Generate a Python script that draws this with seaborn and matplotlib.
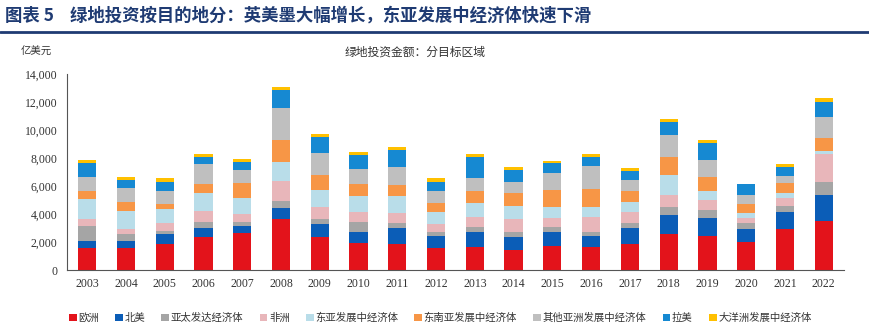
import matplotlib
matplotlib.use("Agg")
import matplotlib.pyplot as plt
from matplotlib.patches import Patch
from matplotlib.lines import Line2D
import numpy as np
import pandas as pd
import seaborn as sns

years = [str(y) for y in range(2003, 2023)]
europe      = [1550,1600,1860,2330,2620,3640,2380,1950,1900,1550,1670,1430,1740,1670,1860,2570,2450,2020,2900,3520]
north_am    = [550,500,690,650,520,760,910,790,1080,880,1020,900,950,760,1120,1360,1290,910,1220,1840]
apac_dev    = [1070,470,240,470,260,550,330,660,350,260,360,360,410,310,350,550,550,400,480,950]
africa      = [470,360,590,760,600,1410,900,720,720,570,710,930,640,1020,840,880,710,360,520,1980]
east_asia   = [1410,1310,950,1310,1120,1330,1190,1170,1240,860,1000,950,740,760,710,1430,640,410,400,230]
se_asia     = [620,640,380,620,1120,1600,1080,830,780,640,910,950,1230,1270,790,1310,980,610,670,880]
other_asia  = [950,1000,930,1430,900,2310,1540,1070,1310,880,930,790,1190,1640,760,1540,1240,650,520,1550]
latam       = [1050,550,670,530,600,1260,1150,1020,1190,670,1450,830,720,670,640,960,1190,780,670,1070]
oceania     = [210,190,240,190,190,240,230,240,240,240,210,190,190,190,190,190,240,0,190,240]

series_names = ["欧洲", "北美", "亚太发达经济体", "非洲", "东亚发展中经济体",
                "东南亚发展中经济体", "其他亚洲发展中经济体", "拉美", "大洋洲发展中经济体"]
series_vals = [europe, north_am, apac_dev, africa, east_asia, se_asia, other_asia, latam, oceania]
colors = ["#E3131B", "#0B5DB7", "#A5A5A5", "#E8B6BA", "#B9DDE9",
          "#F79646", "#BFBFBF", "#1689D2", "#FFC000"]

sns.set_style("white")
plt.rcParams['font.family'] = ['Noto Sans CJK SC', 'DejaVu Sans']

fig = plt.figure(figsize=(8.7, 3.36), dpi=100)
ax = fig.add_axes([0.077, 0.196, 0.893, 0.584])

bottom = np.zeros(len(years))
for name, vals, c in zip(series_names, series_vals, colors):
    df = pd.DataFrame({"year": years, "value": vals})
    sns.barplot(data=df, x="year", y="value", order=years, color=c, width=0.47,
                bottom=bottom.copy(), ax=ax, errorbar=None, saturation=1,
                linewidth=0, label=name)
    bottom += np.array(vals)

ax.set_xlim(-0.52, 19.52)
ax.set_ylim(0, 14000)
ax.set_yticks(np.arange(0, 14001, 2000))
ax.set_yticklabels([f"{v:,}" for v in range(0, 14001, 2000)],
                   fontfamily="Liberation Serif", fontsize=8.5, color="#333333")
ax.set_xticks(range(len(years)))
ax.set_xticklabels(years, fontfamily="Liberation Serif", fontsize=8.5, color="#333333")
ax.set_xticks(np.arange(-0.5, 20, 1), minor=True)
ax.tick_params(axis="x", which="major", length=0, pad=6)
ax.tick_params(axis="x", which="minor", length=4, width=0.8, color="#555555", direction="out")
ax.tick_params(axis="y", length=4, width=0.8, color="#555555", direction="out", pad=3)
ax.set_xlabel("")
ax.set_ylabel("")
for s in ["top", "right"]:
    ax.spines[s].set_visible(False)
for s in ["left", "bottom"]:
    ax.spines[s].set_color("#555555")
    ax.spines[s].set_linewidth(0.8)
if ax.get_legend() is not None:
    ax.get_legend().remove()

handles = [Patch(facecolor=c, edgecolor="none", label=n) for n, c in zip(series_names, colors)]
fig.legend(handles=handles, loc="center", bbox_to_anchor=(0.506, 0.054), ncol=9,
           frameon=False, fontsize=7.5, handlelength=0.75, handleheight=0.75,
           handletextpad=0.15, columnspacing=1.55, labelcolor="#333333")

fig.text(0.006, 0.955, "图表 5    绿地投资按目的地分：英美墨大幅增长，东亚发展中经济体快速下滑",
         fontsize=12.5, fontweight="bold", color="#1F3B73", va="center", ha="left")
fig.add_artist(Line2D([0.0, 1.0], [0.905, 0.905], transform=fig.transFigure,
                      color="#1F3B73", linewidth=2))
fig.text(0.024, 0.845, "亿美元", fontsize=7.5, color="#333333", va="center", ha="left")
fig.text(0.477, 0.845, "绿地投资金额：分目标区域", fontsize=8.5, color="#333333",
         va="center", ha="center")

fig.savefig("out.png", dpi=100)
